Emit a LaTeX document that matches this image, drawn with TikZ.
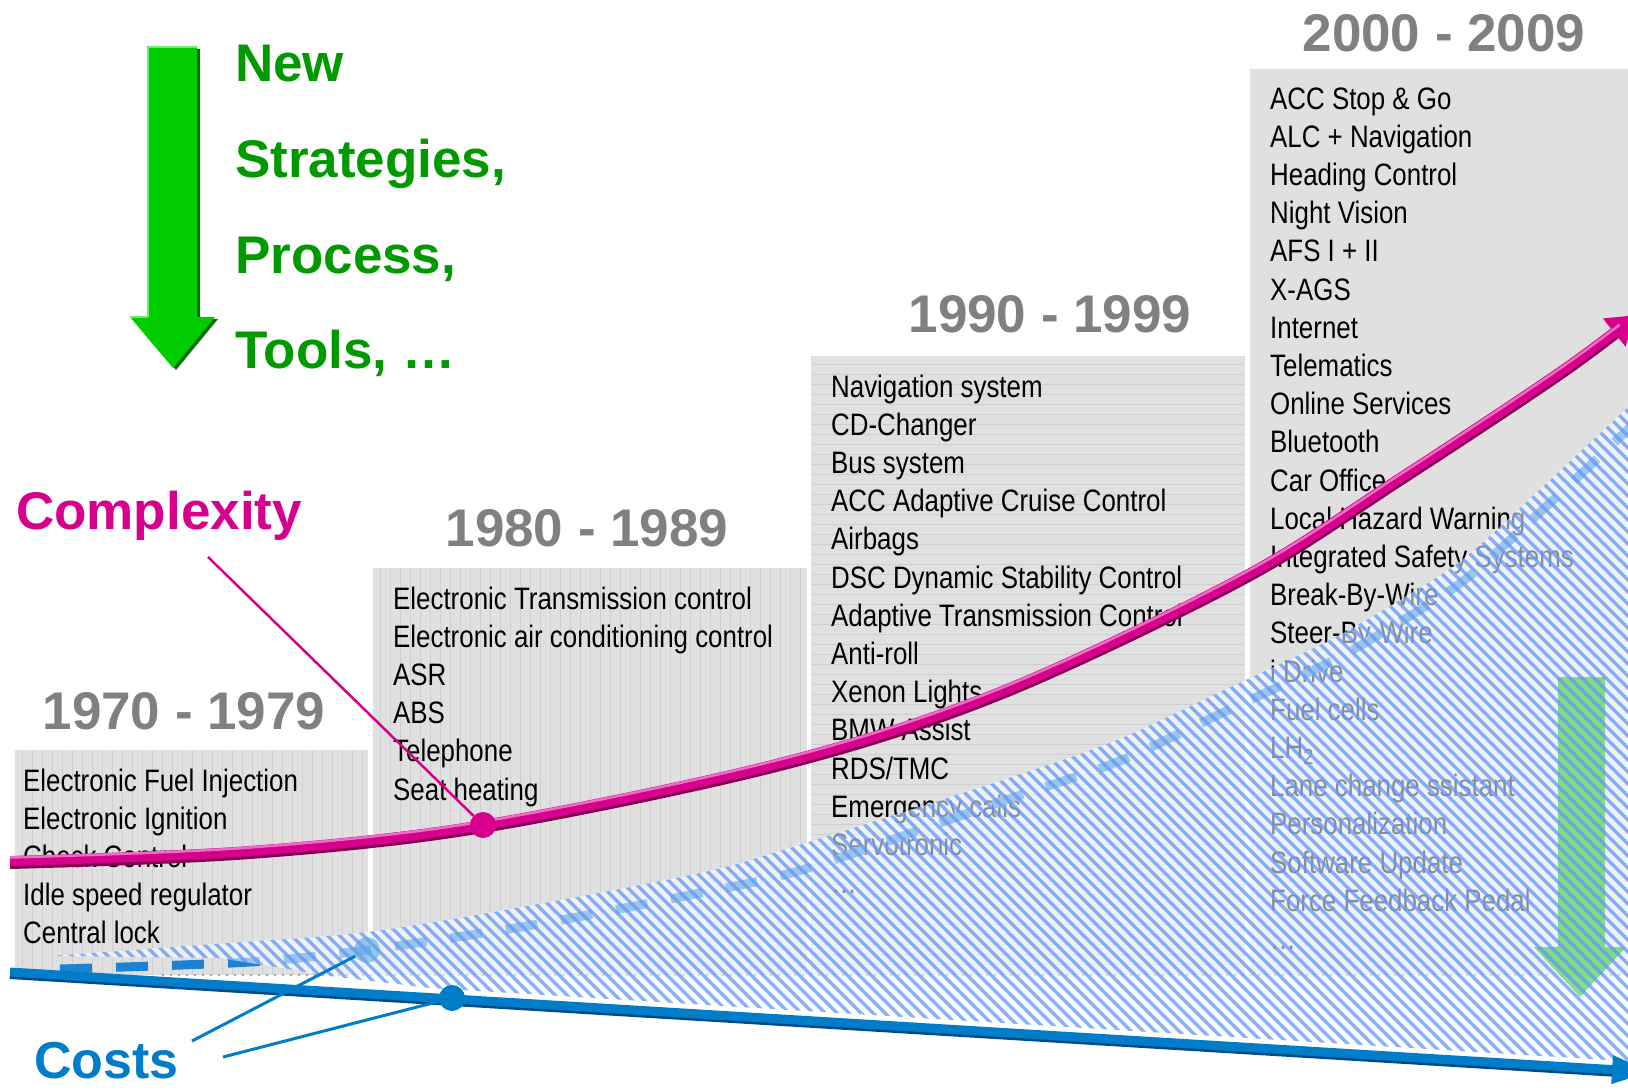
\documentclass[tikz,border=0pt]{standalone}
\usepackage{fontspec}
\setmainfont{Liberation Sans}
\newfontfamily\narrowfont[FakeStretch=0.835]{Liberation Sans}
\usetikzlibrary{arrows.meta}
\definecolor{boxgray}{RGB}{224,224,224}
\definecolor{texgray}{RGB}{207,207,207}
\definecolor{hdrgray}{RGB}{128,128,128}
\definecolor{grn}{RGB}{0,153,0}
\definecolor{arrgrn}{RGB}{0,204,0}
\definecolor{lightgrn}{RGB}{110,235,110}
\definecolor{darkgrn}{RGB}{0,110,0}
\definecolor{fadegrn}{RGB}{90,215,90}
\definecolor{mag}{RGB}{214,0,140}
\definecolor{darkmag}{RGB}{130,0,85}
\definecolor{lightmag}{RGB}{238,110,195}
\definecolor{costblue}{RGB}{0,125,200}
\definecolor{darkblue}{RGB}{0,75,135}
\definecolor{dashblue}{RGB}{30,130,210}
\definecolor{hatchblue}{RGB}{100,150,240}
\definecolor{ldotblue}{RGB}{90,165,225}
\begin{document}
\begin{tikzpicture}[x=1pt,y=-1pt,
  item/.style={anchor=base west, inner sep=0pt, font=\narrowfont\fontsize{31}{38}\selectfont},
  hdr/.style={anchor=base, inner sep=0pt, text=hdrgray, font=\fontsize{53}{60}\selectfont\bfseries},
  gtext/.style={anchor=base west, inner sep=0pt, text=grn, font=\fontsize{53}{60}\selectfont\bfseries},
  texline/.style={texgray, line width=0.7pt},
  hatchline/.style={hatchblue, line width=3.2pt, opacity=0.75},
  costdash/.style={dashblue, line width=9pt, dash pattern=on 32pt off 24pt},
  dotnode/.style={circle, inner sep=0pt, minimum size=26pt},
  pointer/.style={line width=3pt}]
\useasboundingbox (0,0) rectangle (1628,1090);
\clip (0,0) rectangle (1628,1090);

% ---- period boxes
\fill[boxgray] (15,750) rectangle (368,975);
\fill[boxgray] (373,568) rectangle (807,975);
\fill[boxgray] (811,356) rectangle (1245,975);
\fill[boxgray] (1250,69) rectangle (1628,975);
\foreach \x in {22,32,...,362} \draw[texline] (\x,750) -- (\x,975);
\foreach \x in {380,390,...,800} \draw[texline] (\x,568) -- (\x,975);
\foreach \y in {364,374,...,970} \draw[texline] (811,\y) -- (1245,\y);

% ---- headers
\node[hdr] (h70) at (184,729) {1970 - 1979};
\node[hdr] (h80) at (587,546) {1980 - 1989};
\node[hdr] (h90) at (1050,332) {1990 - 1999};
\node[hdr] (h00) at (1444,51) {2000 - 2009};

% ---- green strategies
\fill[darkgrn, xshift=3pt, yshift=-2pt] (148,47) -- (197,47) -- (197,317) -- (215,317) -- (173,368) -- (130,317) -- (148,317) -- cycle;
\fill[arrgrn] (148,47) -- (197,47) -- (197,317) -- (215,317) -- (173,368) -- (130,317) -- (148,317) -- cycle;
\draw[lightgrn, line width=1.5pt] (148,317) -- (148,47) -- (197,47);
\draw[lightgrn, line width=1.5pt] (130,317) -- (148,317);
\node[gtext] (g1) at (235,81) {New};
\node[gtext] (g2) at (235,177) {Strategies,};
\node[gtext] (g3) at (235,273) {Process,};
\node[gtext] (g4) at (235,368) {Tools, \ldots};

\node[anchor=base west, inner sep=0pt, text=mag, font=\fontsize{53}{60}\selectfont\bfseries] (cx) at (16,529) {Complexity};

% ---- lists
\foreach \t [count=\i from 0] in {Electronic Fuel Injection, Electronic Ignition, Check Control, Idle speed regulator, Central lock}
  \node[item] (a\i) at (23,{791+38.2*\i}) {\t};
\foreach \t [count=\i from 0] in {Electronic Transmission control, Electronic air conditioning control, ASR, ABS, Telephone, Seat heating}
  \node[item] (b\i) at (393,{609+38.2*\i}) {\t};
\foreach \t [count=\i from 0] in {Navigation system, CD-Changer, Bus system, ACC Adaptive Cruise Control, Airbags, DSC Dynamic Stability Control, Adaptive Transmission Control, Anti-roll, Xenon Lights, BMW Assist, RDS/TMC, Emergency calls, Servotronic, \ldots}
  \node[item] (c\i) at (831,{397+38.2*\i}) {\t};
\foreach \t [count=\i from 0] in {ACC Stop \& Go, ALC + Navigation, Heading Control, Night Vision, AFS I + II, X-AGS, Internet, Telematics, Online Services, Bluetooth, Car Office, Local Hazard Warning, Integrated Safety Systems, Break-By-Wire, Steer-By-Wire, i Drive, Fuel cells, LH\textsubscript{2}, Lane change ssistant, Personalization, Software Update, Force Feedback Pedal, \ldots}
  \node[item] (d\i) at (1270,{109+38.2*\i}) {\t};

% ---- dotted base line
\draw[gray!75, line width=2.6pt, line cap=round, dash pattern=on 0pt off 8pt] (163,975) -- (1628,975);

% ---- dashed cost curve
\draw[costdash] plot[smooth] coordinates {(60,969) (250,962) (367,950) (533,925) (700,893) (805,869) (1000,802) (1117,762) (1220,714) (1330,662) (1400,622) (1467,578) (1550,503) (1640,418)};

% ---- hatched cost wedge
\begin{scope}
\clip plot[smooth] coordinates {(50,956) (200,945) (367,932) (533,905) (700,873) (780,851) (1000,781) (1117,740) (1220,692) (1330,640) (1400,600) (1467,556) (1550,480) (1640,396)} -- (1640,1062) -- (430,988) -- (330,976) -- (220,958) -- cycle;
\fill[white, opacity=0.55] (0,300) rectangle (1640,1090);
\fill[fadegrn, opacity=0.75] (1558,677) -- (1605,677) -- (1605,947) -- (1626,947) -- (1580,997) -- (1534,947) -- (1558,947) -- cycle;
\foreach \s in {-800,-788,...,1570} \draw[hatchline] (\s,300) -- ++(820,820);
\end{scope}

\node[dotnode, fill=ldotblue, fill opacity=0.6] (ldot) at (367,950) {};

% ---- complexity curve
\draw[darkmag, line width=10pt, yshift=-3pt, shorten >=26pt] plot[smooth, tension=0.55] coordinates {(10,861) (250,851) (483,825) (780,763) (1000,692) (1243,577) (1400,478) (1560,372) (1636,315)};
\draw[mag, line width=10pt, -{Triangle[length=28pt,width=34pt]}] plot[smooth, tension=0.55] coordinates {(10,861) (250,851) (483,825) (780,763) (1000,692) (1243,577) (1400,478) (1560,372) (1636,315)};
\draw[lightmag, line width=2.5pt, yshift=3.5pt, shorten >=30pt] plot[smooth, tension=0.55] coordinates {(10,861) (250,851) (483,825) (780,763) (1000,692) (1243,577) (1400,478) (1560,372) (1636,315)};
\coordinate (cptr) at (208,557);
\node[dotnode, fill=mag] (mdot) at (483,825) {};
\draw[mag, line width=2.5pt] (cptr) -- (mdot);

% ---- cost line
\coordinate (cs) at (10,972);
\coordinate (ce) at (1652,1072);
\draw[darkblue, line width=9pt, shorten >=38pt] ([yshift=-2.5pt]cs) -- ([yshift=-2.5pt]ce);
\draw[costblue, line width=9pt, -{Triangle[length=40pt,width=26pt]}] (cs) -- (ce);
\node[dotnode, fill=costblue] (bdot) at (452,998) {};
\coordinate (cp1) at (192,1041);
\coordinate (cp2) at (223,1057);
\draw[costblue, pointer] (cp1) -- (ldot);
\draw[costblue, pointer] (cp2) -- (bdot);
\node[anchor=base west, inner sep=0pt, text=costblue, font=\fontsize{52}{60}\selectfont\bfseries] (costs) at (34,1078) {Costs};
\end{tikzpicture}
\end{document}
